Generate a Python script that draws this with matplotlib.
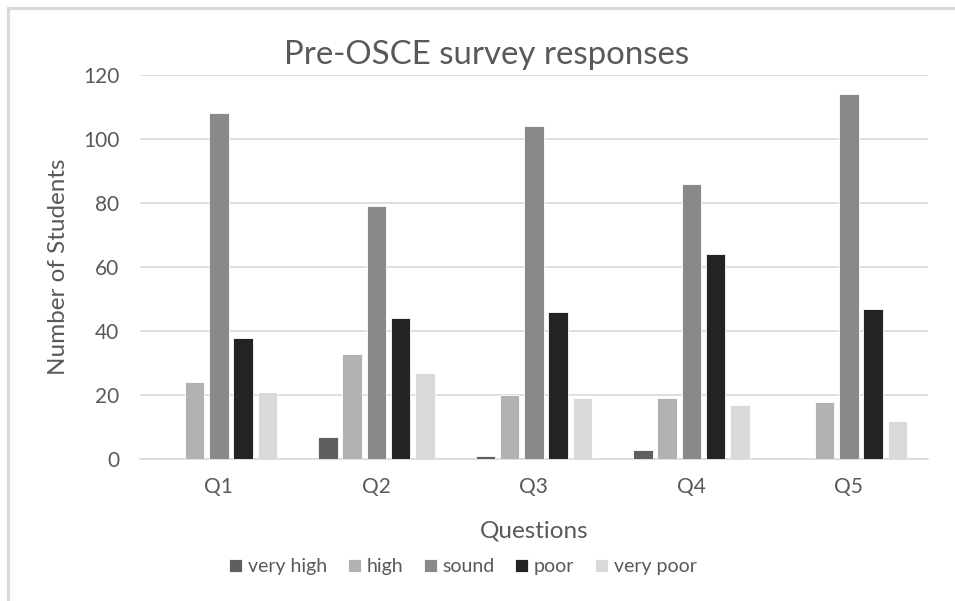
import matplotlib.pyplot as plt
import numpy as np

questions = ['Q1', 'Q2', 'Q3', 'Q4', 'Q5']
levels = ['very high', 'high', 'sound', 'poor', 'very poor']
very_high = [0, 7, 1, 3, 0]
high = [24, 33, 20, 19, 18]
sound = [108, 79, 104, 86, 114]
poor = [38, 44, 46, 64, 47]
very_poor = [21, 27, 19, 17, 12]
colors = ['#5f5f5f', '#b2b2b2', '#898989', '#232323', '#d9d9d9']

plt.rcParams['font.family'] = ['Lato', 'DejaVu Sans']

fig = plt.figure(figsize=(9.55, 6.01), dpi=100)
ax = fig.add_axes([0.1466, 0.2358, 0.8248, 0.6394])

# chart frame lines (top and left edge)
fig.add_artist(plt.Line2D([0.008, 1.0], [0.987, 0.987], color='#d9d9d9', lw=2.2))
fig.add_artist(plt.Line2D([0.008, 0.008], [0.0, 0.987], color='#d9d9d9', lw=2.2))

x = np.arange(len(questions))
step = 0.154
width = 0.124
series = [very_high, high, sound, poor, very_poor]
for i, (vals, name) in enumerate(zip(series, levels)):
    ax.bar(x + (i - 2) * step, vals, width, color=colors[i], label=name,
           edgecolor='white', linewidth=0.6, zorder=3)

ax.set_xlim(-0.5, 4.5)
ax.set_ylim(0, 120)
ax.set_yticks(range(0, 121, 20))
ax.set_xticks(x)
ax.set_xticklabels(questions)
ax.grid(axis='y', color='#d9d9d9', lw=1.2, zorder=0)
for s in ['top', 'right', 'left']:
    ax.spines[s].set_visible(False)
ax.spines['bottom'].set_color('#d9d9d9')
ax.spines['bottom'].set_linewidth(1.2)
ax.tick_params(axis='both', length=0, colors='#595959', labelsize=15)
ax.tick_params(axis='x', pad=13)
ax.tick_params(axis='y', pad=15)

fig.text(0.509, 0.909, 'Pre-OSCE survey responses', fontsize=23.8, color='#595959',
         ha='center', va='center')
ax.set_ylabel('Number of Students', fontsize=17.5, color='#595959', labelpad=10)
ax.set_xlabel('Questions', fontsize=17.5, color='#595959', labelpad=17)

ax.legend(loc='center', bbox_to_anchor=(0.41, -0.28), ncol=5, frameon=False,
          fontsize=14, labelcolor='#595959', handlelength=0.67, handleheight=0.67,
          handletextpad=0.3, columnspacing=1.05)

fig.savefig('out.png', dpi=100, facecolor='white')
